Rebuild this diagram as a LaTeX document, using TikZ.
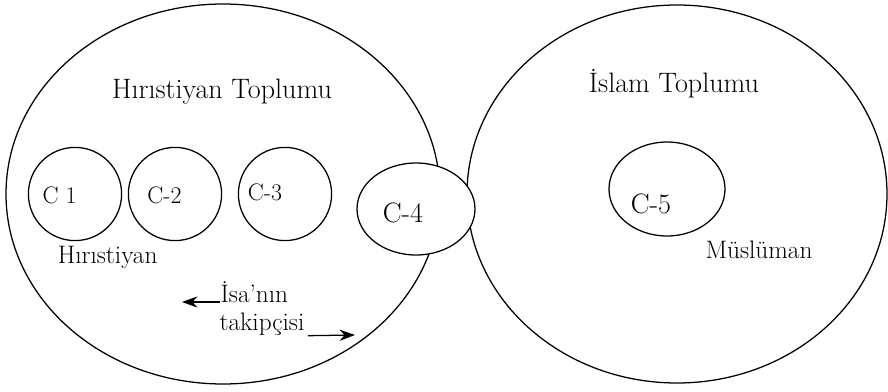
\documentclass[tikz,border=0pt]{standalone}
\usepackage{fontspec}
\usetikzlibrary{shapes.geometric,arrows.meta}

\begin{document}
\begin{tikzpicture}[line width=0.9pt, >={Stealth[length=11pt,width=8pt]},
        halka/.style={draw, ellipse, inner sep=0pt},
        baslik/.style={anchor=base, inner sep=0pt, font=\fontsize{20}{24}\selectfont},
        etiket/.style={anchor=base, inner sep=0pt, font=\fontsize{18}{21}\selectfont},
        kod/.style={anchor=base, inner sep=0pt, font=\fontsize{17}{20}\selectfont}]

        \useasboundingbox (0,0) rectangle (22.2,9.775);

        % --- Iki buyuk toplum ---
        \node[halka, minimum width=10.85cm, minimum height=9.5cm] (hiristiyan) at (5.575,4.925) {};
        \node[halka, minimum width=10.5cm, minimum height=9.45cm] (islam) at (16.925,4.925) {};

        \node[baslik] (hbaslik) at (5.55,7.325) {Hırıstiyan Toplumu};
        \node[baslik] (ibaslik) at (16.85,7.475) {İslam Toplumu};

        % --- Hiristiyan cemaatleri (C 1, C-2, C-3) ---
        % \i = indice, \x = merkez, \lx / \ly = yazi konumu, \lbl = yazi
        \foreach \i / \x / \lx / \ly / \lbl in {
            1 / 1.875 / 1.49  / 4.7   / C 1,
            2 / 4.375 / 4.11  / 4.7   / C-2,
            3 / 7.125 / 6.625 / 4.775 / C-3
        } {
            \node[halka, minimum size=2.33cm] (c\i) at (\x,4.925) {};
            \node[kod] (c\i lbl) at (\lx,\ly) {\lbl};
        }

        % --- C-4 iki toplumun sinirinda ---
        % fill=white soldaki elipsin cizgisini ortuyor
        \node[halka, fill=white, minimum width=2.95cm, minimum height=2.3cm] (c4) at (10.4,4.55) {};
        \node[baslik] (c4lbl) at (10.075,4.225) {C-4};

        % --- C-5 ---
        \node[halka, minimum width=2.9cm, minimum height=2.35cm] (c5) at (16.675,5.05) {};
        \node[baslik] (c5lbl) at (16.275,4.45) {C-5};

        \node[etiket] (hlbl) at (2.69,3.2) {Hırıstiyan};
        \node[etiket] (mlbl) at (18.975,3.325) {Müslüman};

        % --- Isa'nin takipcisi ve oklar ---
        \node[etiket, anchor=base west] (isa) at (5.5,2.225) {İsa'nın};
        \node[etiket, anchor=base west] (takip) at (5.475,1.525) {takipçisi};

        \coordinate (soluc) at (4.55,2.225);
        \coordinate (saguc) at (8.875,1.4);
        \draw[->] (isa.base west) -- (soluc);
        \draw[->] ([xshift=2pt]takip.south east) -- (saguc);

    \end{tikzpicture}
\end{document}
